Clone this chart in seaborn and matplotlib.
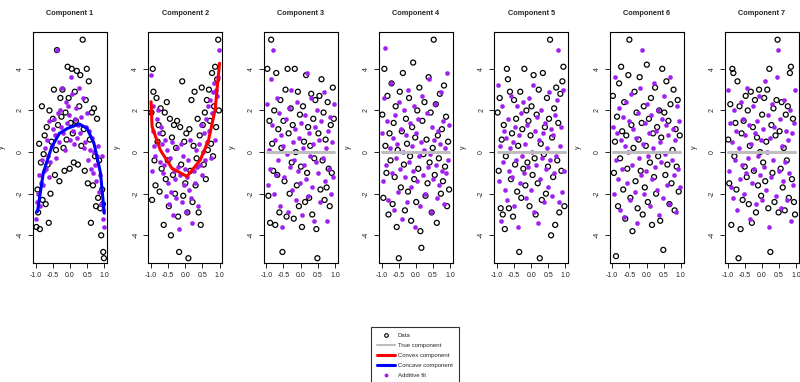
import matplotlib
matplotlib.use("Agg")
import matplotlib.pyplot as plt
from matplotlib.lines import Line2D
import seaborn as sns

comp1_x = [-0.98, -0.95, -0.93, -0.90, -0.88, -0.85, -0.82, -0.80, -0.77, -0.74, -0.71, -0.68,
           -0.65, -0.62, -0.60, -0.57, -0.54, -0.50, -0.47, -0.44, -0.41, -0.38, -0.35, -0.31,
           -0.28, -0.25, -0.22, -0.19, -0.16, -0.13, -0.10, -0.07, -0.04, -0.01, 0.02, 0.05,
           0.08, 0.11, 0.14, 0.17, 0.20, 0.23, 0.27, 0.30, 0.33, 0.37, 0.40, 0.43, 0.46, 0.49,
           0.52, 0.55, 0.58, 0.61, 0.64, 0.67, 0.70, 0.73, 0.76, 0.79, 0.82, 0.85, 0.88, 0.91,
           0.94, 0.97, 0.99, 0.96]
comp1_data = [-3.6, -1.8, -2.9, 0.4, -3.7, -0.5, 2.2, -2.3, -0.1, 0.8, -2.5, 1.2,
              -0.6, -3.4, 2.0, -2.0, 0.5, 1.6, 3.0, -1.1, 0.1, 4.9, 1.3, -1.4,
              2.6, 1.7, 3.0, 0.2, -0.9, 1.9, 0.6, 4.1, 2.6, -0.8, 1.4, 4.0,
              0.9, -0.5, 2.9, 1.5, 3.9, -0.6, 2.2, 3.7, 0.3, 5.4, 1.1, -0.9, 2.5, 4.0,
              -1.5, 3.4, 0.6, -3.4, 1.9, -1.6, 2.1, -0.2, -2.6, 1.6, -2.2, -0.4, -2.7, -4.0,
              -1.8, -4.8, -5.1, -2.5]
comp1_fit = [-3.2, -2.4, -2.0, -1.1, -2.6, -1.5, -0.4, -1.6, -0.9, 0.2, -0.8, 0.6,
             -0.2, -1.2, 1.5, -0.5, 0.3, 1.1, 1.6, 0.8, -0.3, 4.9, 1.9, 0.5,
             2.0, 1.2, 3.1, 0.9, 0.1, 2.4, 1.4, 2.2, 1.8, 0.6, 3.6, 2.8,
             1.0, 0.4, 1.6, 2.1, 0.7, 1.3, 3.1, 0.9, 1.7, 2.6, 0.2, 0.5, 1.2, 1.9,
             -0.4, 1.0, 0.1, -0.8, 0.7, -1.0, 0.0, -0.6, -1.4, -0.2, 0.3, -1.9, -1.1, -2.5,
             -0.2, -3.2, -3.6, -2.8]

comp2_x = [-0.99, -0.97, -0.95, -0.93, -0.90, -0.87, -0.84, -0.81, -0.78, -0.75, -0.72, -0.69,
           -0.66, -0.63, -0.60, -0.57, -0.54, -0.51, -0.48, -0.45, -0.42, -0.39, -0.36, -0.33,
           -0.30, -0.27, -0.24, -0.21, -0.18, -0.15, -0.12, -0.09, -0.06, -0.03, 0.00, 0.03,
           0.06, 0.09, 0.12, 0.15, 0.18, 0.21, 0.24, 0.27, 0.30, 0.33, 0.36, 0.39, 0.42, 0.45,
           0.48, 0.51, 0.54, 0.57, 0.60, 0.63, 0.66, 0.69, 0.72, 0.75, 0.78, 0.81, 0.84, 0.87,
           0.90, 0.93, 0.96, 0.98]
comp2_data = [1.9, -2.3, 4.0, 2.9, -0.4, -1.6, 2.6, 0.5, 1.3, -1.9, 2.1, -0.8,
              0.9, -3.5, 1.9, -1.3, 2.4, -0.4, -2.6, 1.6, -4.0, 0.7, -1.1, 1.3,
              -2.0, 0.2, 1.5, -3.1, -4.8, 1.2, -0.6, 3.4, -2.1, 0.5, -1.5, 0.9,
              -2.9, -5.1, 1.1, -0.9, 2.5, -2.4, 0.3, 2.9, -1.6, -0.3, 1.6, -2.9, 0.8, -3.5,
              3.1, 1.3, -0.6, 1.9, -1.3, 2.5, 0.1, 3.0, 1.5, 0.4, 3.8, -0.2, 2.2, 4.1,
              1.2, 3.5, 5.4, 2.0]
comp2_fit = [3.7, -0.9, 2.2, 1.0, 0.3, -0.2, 1.6, 2.0, 0.9, -0.5, 1.2, 0.4,
             -1.0, -0.6, 0.6, -2.1, 0.1, -1.5, -2.5, -0.3, -1.9, 0.5, -3.0, -0.9,
             -1.3, -2.2, 0.2, -0.7, -3.7, -1.1, 0.4, -2.4, -0.2, -1.6, -0.8, -2.9,
             -1.2, -0.4, -1.8, 0.6, -2.2, -3.4, -0.9, -1.5, 0.1, -0.7, -2.6, 0.4, -0.6, 1.3,
             -1.1, 0.0, 0.9, -0.4, 1.6, 0.5, 2.2, 1.0, 2.5, -0.3, 1.9, 2.9, 3.3, 0.6,
             3.0, 2.7, 3.6, 4.9]

comp3_x = [-0.97, -0.94, -0.91, -0.89, -0.86, -0.83, -0.80, -0.77, -0.74, -0.71, -0.68, -0.65,
           -0.62, -0.59, -0.56, -0.53, -0.50, -0.47, -0.44, -0.41, -0.38, -0.35, -0.32, -0.29,
           -0.26, -0.23, -0.20, -0.17, -0.14, -0.11, -0.08, -0.05, -0.02, 0.01, 0.04, 0.07,
           0.10, 0.13, 0.16, 0.19, 0.22, 0.25, 0.28, 0.31, 0.34, 0.37, 0.40, 0.43, 0.46, 0.49,
           0.52, 0.55, 0.58, 0.61, 0.64, 0.67, 0.70, 0.73, 0.76, 0.79, 0.82, 0.85, 0.88, 0.91,
           0.94, 0.97]
comp3_data = [4.0, -2.1, 1.5, -3.4, 5.4, 0.4, -0.9, 2.0, -3.5, 3.8, -1.1, 1.1,
              -2.9, 2.5, 0.2, -4.8, 1.5, -1.4, 3.0, -3.1, 4.0, 0.9, -2.0, 2.1,
              -0.5, 1.3, -3.2, 4.0, 0.0, -1.6, 2.9, -2.6, 1.8, -0.7, -3.6, 2.2,
              0.5, -2.4, 3.7, -1.0, 1.2, -2.2, 0.3, 2.8, -3.0, 1.6, -0.3, 2.5, -3.7, -5.1,
              0.9, 2.7, -1.8, 3.5, -0.4, 1.9, -2.3, 0.6, -1.7, 2.4, -0.8, -2.6, 1.3, -1.0,
              3.1, 1.6]
comp3_fit = [2.3, -1.6, 0.1, -0.8, 3.5, 1.3, 4.9, -2.0, 0.6, -1.1, 2.6, -0.4,
             1.9, -2.6, 0.8, -3.6, 0.3, -1.2, 1.6, -0.1, -2.9, 2.1, -0.7, 3.0,
             -1.8, 0.5, -0.4, 1.1, -2.3, 2.4, -0.9, 0.7, -1.5, 1.4, -3.0, 0.2,
             -0.6, 1.8, -1.3, 3.8, -2.1, 0.9, -0.2, 2.6, -1.7, 0.4, -3.3, 1.2, -0.5, 2.0,
             -1.0, 0.6, -2.4, 1.5, -0.3, 2.9, -1.4, 0.2, -3.3, 1.0, -0.8, 1.7, -2.0, 0.5,
             -1.2, 2.3]

comp4_x = [-0.98, -0.95, -0.92, -0.89, -0.86, -0.83, -0.80, -0.77, -0.74, -0.71, -0.68, -0.65,
           -0.62, -0.59, -0.56, -0.53, -0.50, -0.47, -0.44, -0.41, -0.38, -0.35, -0.32, -0.29,
           -0.26, -0.23, -0.20, -0.17, -0.14, -0.11, -0.08, -0.05, -0.02, 0.01, 0.04, 0.07,
           0.10, 0.13, 0.16, 0.19, 0.22, 0.25, 0.28, 0.31, 0.34, 0.37, 0.40, 0.43, 0.46, 0.49,
           0.52, 0.55, 0.58, 0.61, 0.64, 0.67, 0.70, 0.73, 0.76, 0.79, 0.82, 0.85, 0.88, 0.91,
           0.94, 0.97]
comp4_data = [1.8, -2.2, 4.0, 0.3, -1.0, 2.7, -3.0, 0.9, -0.4, 3.3, -2.5, 1.4,
              -1.2, 2.2, -3.6, 0.1, -5.1, 2.9, -1.7, 1.0, 3.8, -0.6, -2.8, 1.6,
              0.4, -1.9, 2.6, -0.2, -3.3, 1.2, 4.3, -1.3, 0.7, -2.4, 2.0, -0.8,
              3.1, -3.8, -4.6, 1.5, -0.1, 2.4, -2.1, 0.6, -1.5, 3.6, -0.5, 1.9, -2.9, 0.2,
              5.4, -1.1, 2.3, -3.4, 0.8, -0.3, 2.8, -2.0, 1.1, -1.4, 3.2, -0.7, 1.7, -2.6,
              0.5, -1.8]
comp4_fit = [0.9, -1.4, 2.6, 5.0, -0.6, 1.5, -2.3, 0.2, 3.3, -1.0, 0.7, -2.8,
             1.8, -0.3, 0.4, -1.9, 2.4, -0.8, 1.1, -3.2, 0.0, 2.0, -1.2, 0.8,
             -2.4, 3.0, -0.5, 1.4, -1.7, 0.3, -0.9, 2.2, -3.6, 0.9, -1.4, 1.6,
             -0.2, -2.6, 0.5, 2.7, -1.1, 0.1, -2.0, 1.9, -0.7, 3.5, -0.1, -2.9, 1.2, -1.3,
             0.6, 2.3, -0.6, -2.2, 1.0, -1.6, 0.4, 2.9, -0.9, 1.5, -2.5, 0.2, -1.0, 3.8,
             -0.4, 1.3]

comp5_x = [-0.98, -0.95, -0.92, -0.89, -0.86, -0.83, -0.80, -0.77, -0.74, -0.71, -0.68, -0.65,
           -0.62, -0.59, -0.56, -0.53, -0.50, -0.47, -0.44, -0.41, -0.38, -0.35, -0.32, -0.29,
           -0.26, -0.23, -0.20, -0.17, -0.14, -0.11, -0.08, -0.05, -0.02, 0.01, 0.04, 0.07,
           0.10, 0.13, 0.16, 0.19, 0.22, 0.25, 0.28, 0.31, 0.34, 0.37, 0.40, 0.43, 0.46, 0.49,
           0.52, 0.55, 0.58, 0.61, 0.64, 0.67, 0.70, 0.73, 0.76, 0.79, 0.82, 0.85, 0.88, 0.91,
           0.94, 0.97]
comp5_data = [1.9, -0.9, 2.6, -2.7, 0.6, -3.0, 1.3, -3.7, -0.2, 4.0, 3.5, -2.7,
              2.9, -1.3, 0.9, -3.1, 2.5, -0.6, 1.6, -1.9, 0.3, -4.8, 2.9, -2.2,
              1.1, -0.8, 4.0, -1.6, 2.0, -0.5, 1.5, -2.6, 0.8, 2.2, -1.1, 3.7,
              -0.3, -3.0, 1.8, -1.5, 3.0, -5.1, 0.4, -2.3, 3.8, -0.1, 1.2, -2.0, 2.6, -0.7,
              1.6, 5.4, -4.0, 0.7, -1.2, 2.1, -3.5, 3.1, -0.4, 1.4, -2.9, 2.8, -0.9, 3.4,
              4.1, -2.6]
comp5_fit = [3.2, -1.4, 0.3, -3.3, 2.2, -0.5, 1.0, -1.8, 0.7, -2.3, 1.6, -0.9,
             0.2, 2.7, -1.2, 0.5, -2.6, 1.2, -0.4, 2.2, -3.6, 0.8, -1.5, 1.9,
             -0.2, 2.4, -1.0, 0.4, -2.2, 1.3, -0.7, 2.6, -1.8, 0.0, 3.2, -2.9,
             1.0, -0.6, 1.7, -3.4, 0.6, -1.3, 2.0, -0.3, 0.9, -2.4, 1.4, -0.8, 0.2, -1.7,
             2.9, -0.4, 1.1, -2.1, 0.8, -1.0, 1.8, -0.2, 2.5, 4.9, -2.4, 0.3, 1.2, -1.9,
             3.0, -0.9]

comp6_x = [-0.98, -0.95, -0.92, -0.89, -0.86, -0.83, -0.80, -0.77, -0.74, -0.71, -0.68, -0.65,
           -0.62, -0.59, -0.56, -0.53, -0.50, -0.47, -0.44, -0.41, -0.38, -0.35, -0.32, -0.29,
           -0.26, -0.23, -0.20, -0.17, -0.14, -0.11, -0.08, -0.05, -0.02, 0.01, 0.04, 0.07,
           0.10, 0.13, 0.16, 0.19, 0.22, 0.25, 0.28, 0.31, 0.34, 0.37, 0.40, 0.43, 0.46, 0.49,
           0.52, 0.55, 0.58, 0.61, 0.64, 0.67, 0.70, 0.73, 0.76, 0.79, 0.82, 0.85, 0.88, 0.91,
           0.94, 0.97]
comp6_data = [2.7, -1.0, 0.5, -5.0, 1.7, -2.6, 3.3, -0.3, 4.1, 1.0, -1.8, 2.4,
              -3.2, 0.8, -0.8, 3.7, 5.4, -2.2, 1.3, -3.8, 0.2, 2.9, -1.4, 1.9,
              -2.7, 0.6, 3.6, -0.9, 1.4, -3.0, 2.2, -1.7, 0.3, 4.2, -2.4, 1.6,
              -0.5, 2.6, -3.5, 0.9, -1.2, 3.1, -2.0, 1.2, -0.2, 2.0, -3.3, 0.7, 4.0, -4.7,
              1.9, -1.1, 3.4, -0.6, 1.5, -2.5, 2.3, -1.5, 0.1, 3.0, -2.8, 1.1, -0.7, 2.5,
              -1.9, 0.8]
comp6_fit = [1.2, -2.0, 3.6, -0.4, 0.9, -1.3, 2.1, -2.8, 0.6, -0.8, 1.7, -3.1,
             0.3, 2.4, -1.5, 0.0, 1.5, -2.3, 2.8, -0.6, 1.1, -1.9, 0.7, -3.4,
             1.9, -0.3, 3.1, -1.1, 4.9, 0.4, -2.0, 1.4, -0.9, 2.3, -0.2, 0.9,
             -2.6, 1.8, -1.3, 0.2, 3.3, -0.7, 1.0, -1.8, 2.0, -3.0, 0.5, -0.5, 1.6, -2.2,
             2.7, -0.1, 1.3, -1.6, 0.8, -2.5, 3.6, -0.4, 1.1, -1.1, 0.6, -2.9, 2.2, -0.8,
             1.5, -1.7]

comp7_x = [-0.98, -0.95, -0.92, -0.89, -0.86, -0.83, -0.80, -0.77, -0.74, -0.71, -0.68, -0.65,
           -0.62, -0.59, -0.56, -0.53, -0.50, -0.47, -0.44, -0.41, -0.38, -0.35, -0.32, -0.29,
           -0.26, -0.23, -0.20, -0.17, -0.14, -0.11, -0.08, -0.05, -0.02, 0.01, 0.04, 0.07,
           0.10, 0.13, 0.16, 0.19, 0.22, 0.25, 0.28, 0.31, 0.34, 0.37, 0.40, 0.43, 0.46, 0.49,
           0.52, 0.55, 0.58, 0.61, 0.64, 0.67, 0.70, 0.73, 0.76, 0.79, 0.82, 0.85, 0.88, 0.91,
           0.94, 0.97]
comp7_data = [0.6, -1.5, 2.3, -3.5, 4.0, 3.8, -0.2, 1.4, -1.8, 3.4, -5.1, 2.2,
              -3.7, 0.9, -2.3, 1.5, -0.7, 2.7, -1.2, 2.0, -2.5, 0.3, 2.9, -3.4,
              1.2, -0.9, 2.5, -2.9, 0.7, -1.6, 3.0, 0.0, -2.1, 1.8, -0.5, 2.6,
              -1.4, 0.5, 3.0, -2.7, 4.0, -4.8, 1.3, -1.0, 2.1, -2.4, 0.8, 2.5, 5.4, -2.9,
              1.0, -0.8, 2.4, -1.7, 0.2, -2.8, 1.8, -0.4, 2.2, -2.2, 3.8, 4.1, -1.3, 1.6,
              -2.4, -3.0]
comp7_fit = [3.0, -0.9, 1.4, -1.7, 0.5, -2.2, 2.0, -0.4, 1.0, -2.8, 0.2, -1.3,
             2.4, -0.6, 1.6, -2.0, 0.8, -1.0, 3.1, -0.3, 1.3, -3.2, 0.4, -1.5,
             2.2, -0.8, 0.9, -2.5, 1.5, -0.2, 2.7, -1.1, 0.6, -2.3, 1.1, -0.7,
             3.4, -1.8, 0.0, 1.8, -3.6, 0.7, -1.2, 2.3, -0.4, 1.2, -2.1, 3.6, 4.9, -0.9,
             1.6, -2.7, 0.3, -1.4, 2.5, -0.5, 1.0, -2.3, 0.6, -1.0, 2.0, -3.3, 0.9, -1.6,
             1.4, 3.0]

# fitted shape-constrained components and the (zero) true component
concave_x = [-0.95, -0.78, -0.54, -0.31, -0.07, 0.27, 0.50, 0.70, 0.89, 1.00]
concave_y = [-2.87, -1.00, 0.22, 0.90, 1.14, 1.35, 1.14, 0.42, -1.00, -2.94]
convex_x = [-1.00, -0.97, -0.73, -0.39, 0.05, 0.44, 0.68, 0.87, 1.00]
convex_y = [2.42, 1.22, 0.10, -0.78, -1.17, -0.37, 0.59, 2.03, 4.27]
true_x = [-0.98, 0.98]
true_y = [0.0, 0.0]

titles = [f"Component {i}" for i in range(1, 8)]
all_x = [comp1_x, comp2_x, comp3_x, comp4_x, comp5_x, comp6_x, comp7_x]
all_data = [comp1_data, comp2_data, comp3_data, comp4_data, comp5_data, comp6_data, comp7_data]
all_fit = [comp1_fit, comp2_fit, comp3_fit, comp4_fit, comp5_fit, comp6_fit, comp7_fit]

sns.set_theme(style="ticks")
plt.rcParams["font.family"] = ["Liberation Sans", "DejaVu Sans"]

PURPLE = "#A020F0"
GRAY = "#BEBEBE"

fig = plt.figure(figsize=(8, 3.82), dpi=100)
W, H = 800, 382
for i in range(7):
    left = 33 + i * 115.3
    ax = fig.add_axes([left / W, 1 - 263 / H, 74 / W, (263 - 32) / H])
    sns.scatterplot(x=all_x[i], y=all_data[i], ax=ax, marker="o", s=13,
                    facecolor="none", edgecolor="black", linewidth=0.9)
    sns.scatterplot(x=all_x[i], y=all_fit[i], ax=ax, marker="o", s=9,
                    color=PURPLE, edgecolor=PURPLE, linewidth=0.3)
    if i == 0:
        sns.lineplot(x=concave_x, y=concave_y, ax=ax, color="blue", lw=2.2,
                     sort=False, estimator=None)
    elif i == 1:
        sns.lineplot(x=convex_x, y=convex_y, ax=ax, color="red", lw=2.2,
                     sort=False, estimator=None)
    else:
        sns.lineplot(x=true_x, y=true_y, ax=ax, color=GRAY, lw=2.2,
                     sort=False, estimator=None)
    ax.set_xlim(-1.08, 1.08)
    ax.set_ylim(-5.33, 5.77)
    ax.set_xticks([-1.0, -0.5, 0.0, 0.5, 1.0])
    ax.set_xticklabels(["-1.0", "-0.5", "0.0", "0.5", "1.0"])
    ax.set_yticks([-4, -2, 0, 2, 4])
    ax.set_yticklabels(["-4", "-2", "0", "2", "4"], rotation=90, va="center")
    ax.tick_params(axis="both", labelsize=5, length=3.5, width=0.6, pad=3,
                   color="black", labelcolor="#222222")
    for sp in ax.spines.values():
        sp.set_linewidth(0.8)
        sp.set_color("black")
    ax.set_xlabel("")
    ax.set_ylabel("y", fontsize=5, labelpad=8)
    ax.set_title(titles[i], fontsize=5.3, fontweight="bold", pad=12)

handles = [
    Line2D([], [], ls="none", marker="o", markerfacecolor="none",
           markeredgecolor="black", markersize=2.6, markeredgewidth=0.8),
    Line2D([], [], color=GRAY, lw=1.5),
    Line2D([], [], color="red", lw=2.2),
    Line2D([], [], color="blue", lw=2.2),
    Line2D([], [], ls="none", marker="o", color=PURPLE, markersize=1.8),
]
labels = ["Data", "True component", "Convex component", "Concave component", "Additive fit"]
leg = fig.legend(handles, labels, loc="upper left", bbox_to_anchor=(371 / W, 1 - 327 / H),
                 fontsize=4.3, frameon=True, fancybox=False, handlelength=3.0,
                 labelspacing=0.8, borderpad=1.0, handletextpad=0.5, borderaxespad=0)
leg.get_frame().set_edgecolor("black")
leg.get_frame().set_linewidth(0.8)

fig.savefig("out.png", dpi=100)
